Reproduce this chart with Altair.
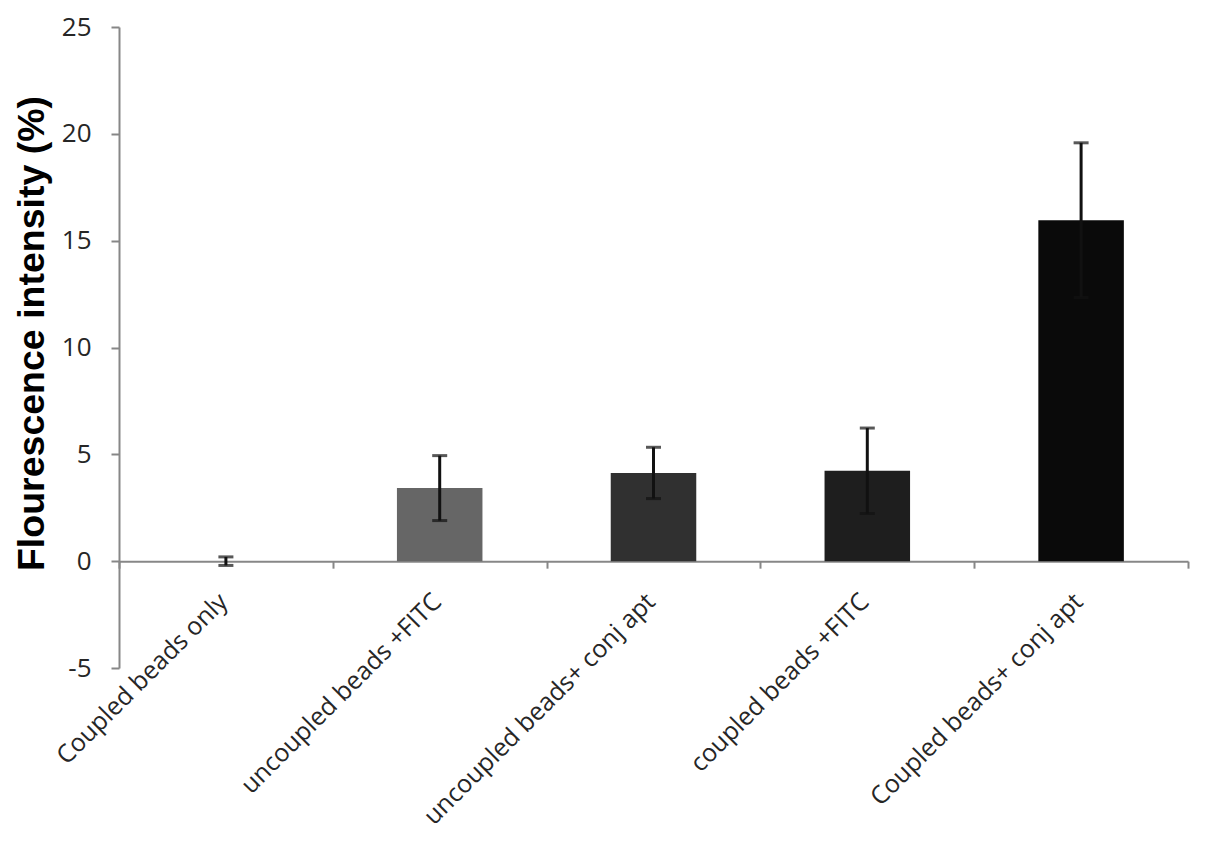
import altair as alt
import pandas as pd

categories = [
    "Coupled beads only",
    "uncoupled beads +FITC",
    "uncoupled beads+ conj apt",
    "coupled beads +FITC",
    "Coupled beads+ conj apt",
]
values = [0.0, 3.42, 4.13, 4.23, 15.96]
errors = [0.2, 1.52, 1.2, 2.0, 3.62]
bar_colors = ["#ffffff", "#666666", "#303030", "#1e1e1e", "#0a0a0a"]
y_ticks = [-5, 0, 5, 10, 15, 20, 25]

df = pd.DataFrame({
    "cat": categories,
    "val": values,
    "lo": [v - e for v, e in zip(values, errors)],
    "hi": [v + e for v, e in zip(values, errors)],
    "color": bar_colors,
})

W, H = 1069, 641
zero_offset = -H / 6.0

x_enc = alt.X(
    "cat:N",
    sort=categories,
    scale=alt.Scale(paddingInner=0, paddingOuter=0),
    axis=alt.Axis(
        title=None,
        offset=zero_offset,
        labelAngle=-45,
        labelAlign="right",
        labelBaseline="middle",
        labelPadding=29,
        labelOffset=-3,
        labelFont="Open Sans",
        labelFontSize=25,
        labelColor="#262626",
        labelLimit=0,
        labelOverlap=False,
        tickBand="extent",
        tickSize=7,
        tickWidth=2,
        tickColor="#878787",
        domainColor="#878787",
        domainWidth=2,
    ),
)

y_scale = alt.Scale(domain=[-5, 25], nice=False, zero=False)
y_axis = alt.Axis(
    title="Flourescence intensity (%)",
    titleFont="Liberation Sans",
    titleFontSize=37.5,
    titleFontWeight="bold",
    titleColor="#000000",
    titlePadding=10,
    titleY=306,
    values=y_ticks,
    labelExpr="'' + datum.value",
    grid=False,
    labelFont="Open Sans",
    labelFontSize=26,
    labelColor="#262626",
    labelPadding=20,
    tickSize=8,
    tickWidth=2,
    tickColor="#878787",
    domainColor="#878787",
    domainWidth=2,
)

base = alt.Chart(df)

bars = base.mark_bar(width={"band": 0.4}).encode(
    x=x_enc,
    y=alt.Y("val:Q", scale=y_scale, axis=y_axis),
    color=alt.Color("color:N", scale=None, legend=None),
)

err_line = base.mark_rule(color="#111111", strokeWidth=3).encode(
    x=alt.X("cat:N", sort=categories),
    y=alt.Y("lo:Q", scale=y_scale),
    y2="hi:Q",
)

cap_hi = base.mark_tick(color="#111111", thickness=3, size=15).encode(
    x=alt.X("cat:N", sort=categories),
    y=alt.Y("hi:Q", scale=y_scale),
)
cap_lo = base.mark_tick(color="#111111", thickness=3, size=15).encode(
    x=alt.X("cat:N", sort=categories),
    y=alt.Y("lo:Q", scale=y_scale),
)

chart = alt.layer(bars, err_line, cap_hi, cap_lo).properties(
    width=W,
    height=H,
    autosize=alt.AutoSizeParams(type="none"),
    padding={"left": 111, "top": 19, "right": 9, "bottom": 170},
).configure(
    background="#ffffff",
    view=alt.ViewConfig(stroke=None),
)

chart.save("out.html", embed_options={"renderer": "svg", "actions": False})
